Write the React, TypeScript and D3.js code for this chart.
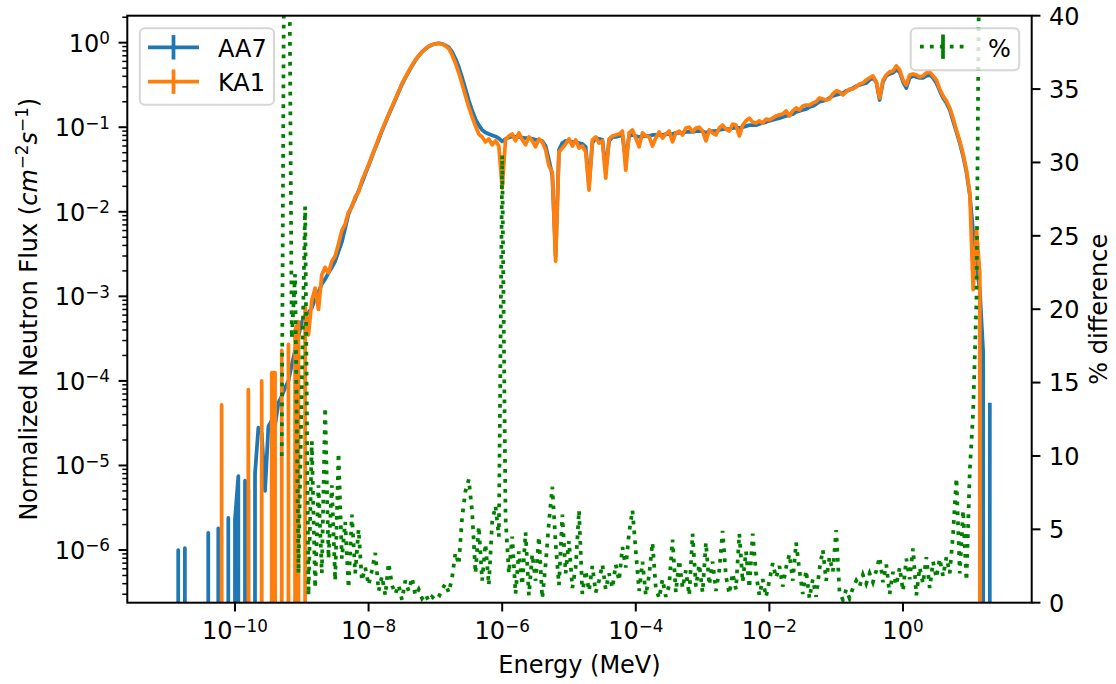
import React from "react";
import * as d3 from "d3";

// Energy group points (MeV)
const energyMeV: number[] = [
  1e-11, 1.122e-11, 1.259e-11, 1.413e-11, 1.585e-11, 1.778e-11, 1.995e-11, 2.239e-11, 2.512e-11, 2.818e-11,
  3.162e-11, 3.548e-11, 3.981e-11, 4.467e-11, 5.012e-11, 5.623e-11, 6.31e-11, 7.079e-11, 7.943e-11, 8.913e-11,
  1e-10, 1.122e-10, 1.259e-10, 1.413e-10, 1.585e-10, 1.778e-10, 1.995e-10, 2.239e-10, 2.512e-10, 2.818e-10,
  3.162e-10, 3.548e-10, 3.981e-10, 4.467e-10, 5.012e-10, 5.623e-10, 6.31e-10, 7.079e-10, 7.943e-10, 8.913e-10,
  1e-9, 1.122e-9, 1.259e-9, 1.413e-9, 1.585e-9, 1.778e-9, 1.995e-9, 2.239e-9, 2.512e-9, 2.818e-9,
  3.162e-9, 3.548e-9, 3.981e-9, 4.467e-9, 5.012e-9, 5.623e-9, 6.31e-9, 7.079e-9, 7.943e-9, 8.913e-9,
  1e-8, 1.122e-8, 1.259e-8, 1.413e-8, 1.585e-8, 1.778e-8, 1.995e-8, 2.239e-8, 2.512e-8, 2.818e-8,
  3.162e-8, 3.548e-8, 3.981e-8, 4.467e-8, 5.012e-8, 5.623e-8, 6.31e-8, 7.079e-8, 7.943e-8, 8.913e-8,
  1e-7, 1.122e-7, 1.259e-7, 1.413e-7, 1.585e-7, 1.778e-7, 1.995e-7, 2.239e-7, 2.512e-7, 2.818e-7,
  3.162e-7, 3.548e-7, 3.981e-7, 4.467e-7, 5.012e-7, 5.623e-7, 6.31e-7, 7.079e-7, 7.943e-7, 8.913e-7,
  1e-6, 1.122e-6, 1.259e-6, 1.413e-6, 1.585e-6, 1.778e-6, 1.995e-6, 2.239e-6, 2.512e-6, 2.818e-6,
  3.162e-6, 3.548e-6, 3.981e-6, 4.467e-6, 5.012e-6, 5.623e-6, 6.31e-6, 7.079e-6, 7.943e-6, 8.913e-6,
  1e-5, 1.122e-5, 1.259e-5, 1.413e-5, 1.585e-5, 1.778e-5, 1.995e-5, 2.239e-5, 2.512e-5, 2.818e-5,
  3.162e-5, 3.548e-5, 3.981e-5, 4.467e-5, 5.012e-5, 5.623e-5, 6.31e-5, 7.079e-5, 7.943e-5, 8.913e-5,
  1e-4, 1.122e-4, 1.259e-4, 1.413e-4, 1.585e-4, 1.778e-4, 1.995e-4, 2.239e-4, 2.512e-4, 2.818e-4,
  3.162e-4, 3.548e-4, 3.981e-4, 4.467e-4, 5.012e-4, 5.623e-4, 6.31e-4, 7.079e-4, 7.943e-4, 8.913e-4,
  1e-3, 1.122e-3, 1.259e-3, 1.413e-3, 1.585e-3, 1.778e-3, 1.995e-3, 2.239e-3, 2.512e-3, 2.818e-3,
  3.162e-3, 3.548e-3, 3.981e-3, 4.467e-3, 5.012e-3, 5.623e-3, 6.31e-3, 7.079e-3, 7.943e-3, 8.913e-3,
  0.01, 0.01122, 0.01259, 0.01413, 0.01585, 0.01778, 0.01995, 0.02239, 0.02512, 0.02818,
  0.03162, 0.03548, 0.03981, 0.04467, 0.05012, 0.05623, 0.0631, 0.07079, 0.07943, 0.08913,
  0.1, 0.1122, 0.1259, 0.1413, 0.1585, 0.1778, 0.1995, 0.2239, 0.2512, 0.2818,
  0.3162, 0.3548, 0.3981, 0.4467, 0.5012, 0.5623, 0.631, 0.7079, 0.7943, 0.8913,
  1, 1.122, 1.259, 1.413, 1.585, 1.778, 1.995, 2.239, 2.512, 2.818,
  3.162, 3.548, 3.981, 4.467, 5.012, 5.623, 6.31, 7.079, 7.943, 8.913,
  10, 11.22, 12.59, 14.13, 15.85, 17.78, 19.95,
];

// Normalized neutron flux, AA7
const fluxAA7: number[] = [
  0, 0, 0, 1.0e-6, 0, 1.05e-6, 0, 0, 0, 0,
  0, 0, 1.6e-6, 0, 0, 1.8e-6, 0, 0, 2.4e-6, 0,
  2.3e-6, 7.5e-6, 0, 6.6e-6, 5.2e-6, 0, 8.0e-6, 2.8e-5, 2.4e-5, 5.0e-6,
  2.9e-5, 3.4e-5, 3.0e-5, 5.5e-5, 6.6e-5, 8.3e-5, 1.0e-4, 1.55e-4, 2.3e-4, 3.4e-4,
  5.0e-4, 5.9e-4, 6.4e-4, 7.3e-4, 9.4e-4, 1.13e-3, 1.4e-3, 1.6e-3, 1.9e-3, 2.2e-3,
  2.6e-3, 3.4e-3, 4.4e-3, 6.4e-3, 9.4e-3, 0.0117, 0.0142, 0.0177, 0.022, 0.028,
  0.0353, 0.0446, 0.0569, 0.0708, 0.0904, 0.112, 0.14, 0.171, 0.21, 0.261,
  0.321, 0.383, 0.451, 0.531, 0.616, 0.697, 0.776, 0.842, 0.902, 0.944,
  0.97, 0.984, 0.97, 0.93, 0.878, 0.776, 0.65, 0.516, 0.388, 0.284,
  0.207, 0.158, 0.125, 0.106, 0.093, 0.0868, 0.0833, 0.0804, 0.0779, 0.0738,
  0.068, 0.0728, 0.0756, 0.0779, 0.0767, 0.0767, 0.0756, 0.0745, 0.0745, 0.0728,
  0.0708, 0.0708, 0.0688, 0.06, 0.041, 0.0272, 0.003, 0.054, 0.065, 0.0688,
  0.0688, 0.067, 0.067, 0.065, 0.0636, 0.0586, 0.0207, 0.065, 0.0745, 0.0728,
  0.0708, 0.031, 0.0688, 0.0767, 0.0767, 0.0787, 0.081, 0.041, 0.0787, 0.081,
  0.0787, 0.0767, 0.0787, 0.0787, 0.0787, 0.081, 0.081, 0.081, 0.081, 0.083,
  0.083, 0.083, 0.0858, 0.0858, 0.0858, 0.088, 0.088, 0.088, 0.09, 0.09,
  0.09, 0.0858, 0.09, 0.09, 0.09, 0.093, 0.095, 0.095, 0.095, 0.098,
  0.098, 0.098, 0.1, 0.103, 0.106, 0.106, 0.106, 0.109, 0.112, 0.115,
  0.119, 0.122, 0.125, 0.128, 0.132, 0.136, 0.14, 0.143, 0.152, 0.156,
  0.16, 0.164, 0.174, 0.178, 0.188, 0.2, 0.205, 0.21, 0.222, 0.235,
  0.241, 0.248, 0.254, 0.269, 0.276, 0.291, 0.307, 0.316, 0.324, 0.333,
  0.362, 0.383, 0.343, 0.21, 0.343, 0.404, 0.427, 0.44, 0.476, 0.451,
  0.343, 0.291, 0.383, 0.404, 0.393, 0.383, 0.383, 0.404, 0.415, 0.383,
  0.333, 0.269, 0.222, 0.193, 0.16, 0.119, 0.088, 0.065, 0.0458, 0.0296,
  0.0159, 0.0058, 0.0022, 0.0012, 2.2e-4, 0, 5.5e-5,
];

// Normalized neutron flux, KA1
const fluxKA1: number[] = [
  0, 0, 0, 0, 0, 0, 0, 0, 0, 0,
  0, 0, 0, 0, 0, 0, 5.2e-5, 0, 0, 0,
  0, 0, 0, 0, 7.9e-5, 0, 0, 0, 1.0e-4, 0,
  0, 1.25e-4, 1.25e-4, 0, 2.3e-4, 0, 2.7e-4, 0, 4.0e-4, 5.0e-4,
  0, 7.5e-4, 3.5e-4, 9.0e-4, 1.25e-3, 7.0e-4, 1.8e-3, 2.2e-3, 1.9e-3, 2.6e-3,
  3.0e-3, 4.2e-3, 6.0e-3, 7.2e-3, 0.01, 0.0113, 0.015, 0.0172, 0.0235, 0.029,
  0.036, 0.046, 0.058, 0.074, 0.092, 0.115, 0.142, 0.175, 0.215, 0.265,
  0.33, 0.39, 0.46, 0.54, 0.625, 0.7, 0.78, 0.845, 0.905, 0.945,
  0.97, 0.98, 0.965, 0.915, 0.855, 0.715, 0.575, 0.44, 0.325, 0.235,
  0.174, 0.132, 0.104, 0.083, 0.0767, 0.067, 0.0728, 0.062, 0.069, 0.06,
  0.019, 0.071, 0.0787, 0.083, 0.069, 0.0858, 0.071, 0.062, 0.0767, 0.069,
  0.0586, 0.0728, 0.067, 0.054, 0.035, 0.0296, 0.0026, 0.051, 0.0568, 0.0636,
  0.0728, 0.06, 0.071, 0.0568, 0.06, 0.051, 0.018, 0.071, 0.0767, 0.065,
  0.069, 0.025, 0.0728, 0.0787, 0.081, 0.083, 0.09, 0.031, 0.0858, 0.093,
  0.0745, 0.0586, 0.0858, 0.0787, 0.0767, 0.06, 0.0745, 0.0878, 0.0745, 0.083,
  0.09, 0.067, 0.0858, 0.09, 0.081, 0.098, 0.1, 0.088, 0.098, 0.1,
  0.09, 0.069, 0.093, 0.0858, 0.081, 0.098, 0.106, 0.095, 0.09, 0.109,
  0.106, 0.0787, 0.106, 0.119, 0.128, 0.115, 0.112, 0.119, 0.112, 0.125,
  0.122, 0.128, 0.136, 0.14, 0.143, 0.156, 0.136, 0.156, 0.169, 0.16,
  0.178, 0.183, 0.183, 0.193, 0.2, 0.222, 0.216, 0.21, 0.216, 0.248,
  0.269, 0.262, 0.241, 0.262, 0.283, 0.283, 0.3, 0.324, 0.333, 0.362,
  0.383, 0.404, 0.343, 0.222, 0.362, 0.415, 0.451, 0.463, 0.531, 0.476,
  0.362, 0.316, 0.415, 0.427, 0.415, 0.393, 0.404, 0.44, 0.451, 0.404,
  0.362, 0.283, 0.235, 0.205, 0.169, 0.128, 0.093, 0.0688, 0.0484, 0.031,
  0.0167, 0.0012, 0.0061, 0.0019, 0, 0, 0,
];

// % difference between AA7 and KA1 (right axis); null where undefined
const pctDiff: (number | null)[] = [
  null, null, null, null, null, null, null, null, null, null,
  null, null, null, null, null, null, null, null, null, null,
  null, null, null, null, null, null, null, null, null, null,
  null, null, null, null, 10, 60, 55, 18, 22.4, 2,
  15, 27, 0.5, 11, 1, 8, 2, 13.3, 3, 8,
  1.5, 10.2, 3, 5.5, 1, 6, 2, 5, 1.5, 2.4,
  1.2, 2.2, 3.4, 0.8, 1.8, 0.5, 2.7, 1.2, 0.6, 1.2,
  0.2, 1.5, 0.8, 1.7, 0.5, 0.9, 0.3, 0.6, 0.1, 0.4,
  0.2, 0.4, 0.9, 1.3, 0.7, 1.7, 3.4, 2.6, 5.8, 7.6,
  8.4, 6.2, 2, 5.2, 1.5, 4, 1.2, 5.5, 6.6, 4.5,
  30.5, 5.8, 2, 4.5, 0.6, 3.5, 1.2, 4.8, 0.5, 3.3,
  1.5, 4.5, 0.3, 2.6, 5.5, 7.9, 4, 1.2, 6, 2,
  4.2, 1, 2.4, 6.3, 0.6, 2.2, 0.8, 2.5, 0.7, 1.5,
  2.6, 0.9, 2, 1, 2.6, 1.5, 3.8, 2.4, 4.8, 6.3,
  3.5, 0.8, 2.8, 0.5, 1.9, 4.1, 1, 0.3, 1.6, 0.4,
  1.2, 4.3, 0.7, 2.9, 1, 2.2, 0.5, 4.7, 1.1, 2.6,
  0.7, 4.1, 1.2, 2.8, 0.8, 2.2, 4.9, 1.8, 0.6, 2.0,
  0.9, 4.7, 1.4, 3.5, 1, 4.7, 2, 0.5, 1.6, 0.4,
  1.5, 2.7, 1.7, 2.5, 1.1, 2.4, 3.3, 1.5, 4.1, 2.2,
  0.6, 2.2, 0.3, 1.6, 0.4, 2.3, 3.6, 1.5, 3.1, 2.1,
  4.95, 0.7, 0.2, 0.9, 0.3, 1, 1.5, 1.1, 1.9, 1.3,
  2, 1.4, 2.2, 3.1, 1.4, 2.6, 0.6, 2.1, 1.2, 2.4,
  0.8, 3.0, 1.6, 3.7, 0.5, 2.4, 1.3, 3.1, 1.0, 2.8,
  1.7, 3.0, 1.8, 3.1, 2.0, 4.7, 8.5, 2.0, 6.3, 1.5,
  9, 13, 20.6, 50, null, null, null,
];

const xTickValues = [1e-10, 1e-8, 1e-6, 1e-4, 1e-2, 1];
const yTickValues = [1, 1e-1, 1e-2, 1e-3, 1e-4, 1e-5, 1e-6];
const rightTickValues = [0, 5, 10, 15, 20, 25, 30, 35, 40];
const seriesNames = ["AA7", "KA1"];
const pctName = "%";

const X_LIMITS: [number, number] = [2.443e-12, 84.5];
const Y_LIMITS: [number, number] = [2.383e-7, 2.084];
const PCT_LIMITS: [number, number] = [0, 40];

const BLUE = "#1f77b4";
const ORANGE = "#ff7f0e";
const GREEN = "#008000";
const FONT = "DejaVu Sans";
const FS = 24;
const SUP = 16.8;

function expLabel(v: number) {
  const e = Math.round(Math.log10(v));
  return e < 0 ? "\u2212" + String(-e) : String(e);
}

export default function App() {
  const W = 1116, H = 684;
  const L = 127.3, R = 1031.7, T = 15.7, B = 602.7;
  const x = d3.scaleLog().domain(X_LIMITS).range([L, R]);
  const y = d3.scaleLog().domain(Y_LIMITS).range([B, T]);
  const yr = d3.scaleLinear().domain(PCT_LIMITS).range([B, T]);
  const idx = d3.range(energyMeV.length);

  const fluxPath = (vals: number[]) =>
    d3
      .line<number>()
      .x((i) => x(energyMeV[i]))
      .y((i) => (vals[i] > 0 ? y(vals[i]) : B + 20000))(idx) ?? "";
  const pctPath =
    d3
      .line<number>()
      .defined((i) => pctDiff[i] != null)
      .x((i) => x(energyMeV[i]))
      .y((i) => yr(pctDiff[i] as number))(idx) ?? "";

  const minorY = y
    .ticks(10)
    .filter((v) => v >= Y_LIMITS[0] && v <= Y_LIMITS[1])
    .filter((v) => Math.abs(Math.log10(v) - Math.round(Math.log10(v))) > 1e-6);

  const MAJ = 8.75;
  const MIN = 5;
  const lw = 3.75;

  return (
    <svg
      width={W}
      height={H}
      style={{ position: "absolute", left: 0, top: 0, background: "#fff" }}
      fontFamily={FONT}
    >
      <defs>
        <clipPath id="plotclip">
          <rect x={L} y={T} width={R - L} height={B - T} />
        </clipPath>
      </defs>
      <rect x={0} y={0} width={W} height={H} fill="#fff" />

      {/* left-axis series */}
      <g clipPath="url(#plotclip)" fill="none" strokeLinejoin="round" strokeLinecap="butt">
        <path d={fluxPath(fluxAA7)} stroke={BLUE} strokeWidth={lw} />
        <path d={fluxPath(fluxKA1)} stroke={ORANGE} strokeWidth={lw} />
      </g>

      {/* legend 1 */}
      <g>
        <rect x={139.8} y={28.2} width={134.2} height={76.5} rx={5} ry={5}
          fill="#fff" fillOpacity={0.8} stroke="#cccccc" strokeOpacity={0.8} strokeWidth={2} />
        {[BLUE, ORANGE].map((c, k) => {
          const cy = 47.3 + k * 34.4;
          return (
            <g key={k}>
              <line x1={148} x2={199} y1={cy} y2={cy} stroke={c} strokeWidth={lw} />
              <line x1={173.5} x2={173.5} y1={cy - 12.2} y2={cy + 12.2} stroke={c} strokeWidth={lw} />
              <text x={218} y={cy + 9.6} fontSize={FS} fill="#000">{seriesNames[k]}</text>
            </g>
          );
        })}
      </g>

      {/* right-axis series */}
      <g clipPath="url(#plotclip)" fill="none">
        <path d={pctPath} stroke={GREEN} strokeWidth={lw} strokeDasharray="3.75 6.19" strokeLinecap="butt" />
      </g>

      {/* spines */}
      <g stroke="#000" strokeWidth={2} fill="none">
        <rect x={L} y={T} width={R - L} height={B - T} strokeLinejoin="miter" />
      </g>

      {/* x axis ticks */}
      {xTickValues.map((v, k) => (
        <g key={"xt" + k}>
          <line x1={x(v)} x2={x(v)} y1={B} y2={B + MAJ} stroke="#000" strokeWidth={2} />
          <text x={x(v)} y={639.3} fontSize={FS} textAnchor="middle" fill="#000">
            <tspan>10</tspan>
            <tspan fontSize={SUP} dy={-7.6}>{expLabel(v)}</tspan>
          </text>
        </g>
      ))}

      {/* left y ticks */}
      {minorY.map((v, k) => (
        <line key={"ym" + k} x1={L - MIN} x2={L} y1={y(v)} y2={y(v)} stroke="#000" strokeWidth={1.5} />
      ))}
      {yTickValues.map((v, k) => (
        <g key={"yt" + k}>
          <line x1={L - MAJ} x2={L} y1={y(v)} y2={y(v)} stroke="#000" strokeWidth={2} />
          <text x={110} y={y(v) + 9} fontSize={FS} textAnchor="end" fill="#000">
            <tspan>10</tspan>
            <tspan fontSize={SUP} dy={-7.6}>{expLabel(v)}</tspan>
          </text>
        </g>
      ))}

      {/* right y ticks */}
      {rightTickValues.map((v, k) => (
        <g key={"rt" + k}>
          <line x1={R} x2={R + MAJ} y1={yr(v)} y2={yr(v)} stroke="#000" strokeWidth={2} />
          <text x={1049} y={yr(v) + 8.8} fontSize={FS} textAnchor="start" fill="#000">{v}</text>
        </g>
      ))}

      {/* legend 2 */}
      <g>
        <rect x={910.7} y={28.2} width={108.5} height={42} rx={5} ry={5}
          fill="#fff" fillOpacity={0.8} stroke="#cccccc" strokeOpacity={0.8} strokeWidth={2} />
        <line x1={920} x2={968} y1={46.7} y2={46.7} stroke={GREEN} strokeWidth={lw} strokeDasharray="3.75 6.19" />
        <line x1={943} x2={943} y1={34.5} y2={58.9} stroke={GREEN} strokeWidth={lw} />
        <text x={988} y={56.7} fontSize={FS} fill="#000">{pctName}</text>
      </g>

      {/* axis labels */}
      <text x={(L + R) / 2} y={673.3} fontSize={FS} textAnchor="middle" fill="#000">Energy (MeV)</text>
      <text transform={`translate(37,${(T + B) / 2}) rotate(-90)`} fontSize={FS} textAnchor="middle" fill="#000">
        <tspan>Normalized Neutron Flux (</tspan>
        <tspan fontStyle="italic">cm</tspan>
        <tspan fontSize={SUP} dy={-9}>{"\u22122"}</tspan>
        <tspan fontStyle="italic" dy={9}>s</tspan>
        <tspan fontSize={SUP} dy={-9}>{"\u22121"}</tspan>
        <tspan dy={9}>)</tspan>
      </text>
      <text transform={`translate(1107,${(T + B) / 2}) rotate(-90)`} fontSize={FS} textAnchor="middle" fill="#000">
        % difference
      </text>
    </svg>
  );
}
